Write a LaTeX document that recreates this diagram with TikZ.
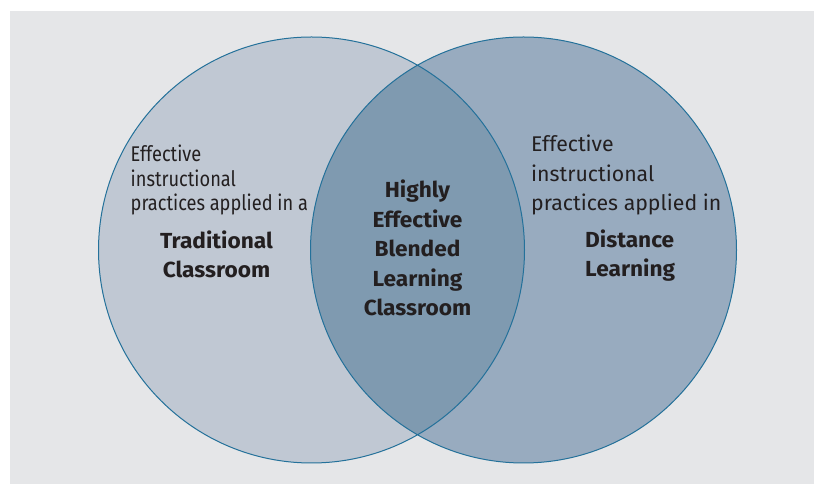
\documentclass[tikz,border=0pt]{standalone}
\usepackage{fontspec}
\setmainfont{Fira Sans}
\newfontfamily\narrowfont[FakeStretch=0.855]{Fira Sans}
\newfontfamily\headfont[FakeStretch=1.04]{Fira Sans Bold}
\usetikzlibrary{positioning}

\definecolor{panel}{HTML}{E5E6E8}
\definecolor{ringline}{HTML}{24719A}
\definecolor{leftfill}{HTML}{C0C8D3}
\definecolor{rightfill}{HTML}{98ABBF}
\definecolor{overlapfill}{HTML}{7F9AB0}
\definecolor{ink}{HTML}{231F20}

\begin{document}
\begin{tikzpicture}[x=1pt,y=1pt]
		\tikzstyle{plain}=[inner sep=0pt, align=left, text=ink,
							font=\fontsize{21.3}{29.5}\selectfont]
		\tikzstyle{heading}=[inner sep=0pt, align=center, text=ink,
							font=\headfont\fontsize{21.8}{29.5}\selectfont]

		\useasboundingbox (0,0) rectangle (814,484);
		\fill[panel] (10,0) rectangle (814,473);

		% circles
		\coordinate (L) at (311.5,234);
		\coordinate (R) at (523.5,234);
		\fill[leftfill] (L) circle (213);
		\fill[rightfill] (R) circle (213);
		\begin{scope}
			\clip (L) circle (213);
			\fill[overlapfill] (R) circle (213);
		\end{scope}
		\draw[ringline, line width=1pt] (L) circle (213) (R) circle (213);

		% left (base = last line)
		\node[plain, anchor=base west, font=\narrowfont\fontsize{21.3}{24.5}\selectfont]
			(lefttext) at (130.5,273) {Effective\\instructional\\practices applied in a};
		\node[heading, anchor=base] (leftname) at (216.5,206.3) {Traditional\\Classroom};

		% middle
		\node[heading, anchor=base] (midname) at (417.5,168) {Highly\\Effective\\Blended\\Learning\\Classroom};

		% right
		\node[plain, anchor=base west] (righttext) at (531,273.3)
			{Effective\\instructional\\practices applied in};
		\node[heading, anchor=base west, align=left] (rightname) at (585,207.3) {Distance\\Learning};
\end{tikzpicture}
\end{document}
